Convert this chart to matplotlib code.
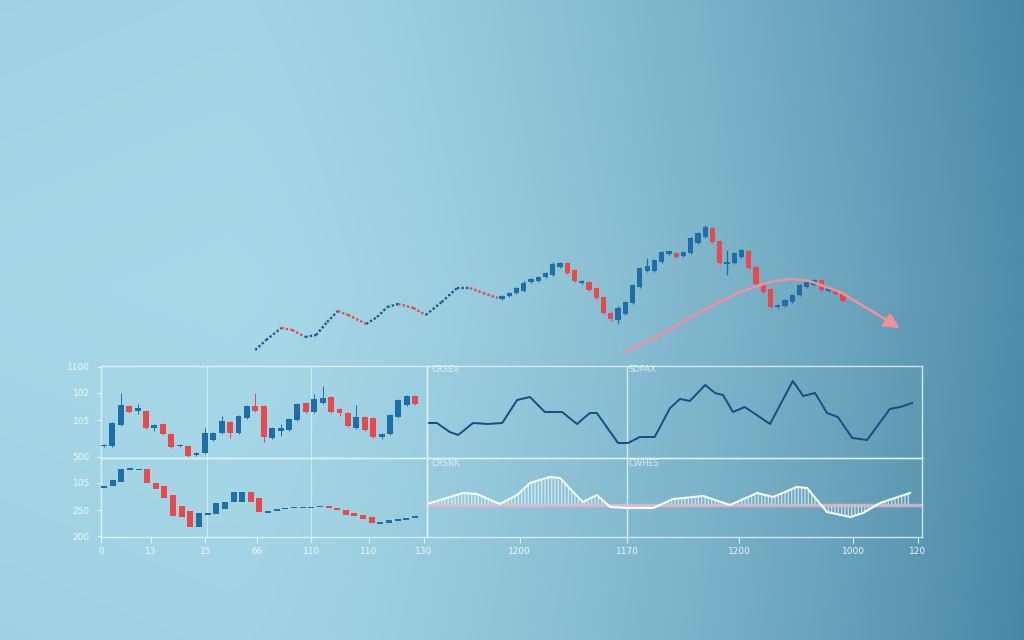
import numpy as np
import matplotlib
matplotlib.use("Agg")
import matplotlib.pyplot as plt

# ---- data ----
# top "hero" chart: dotted wave, then candles, then forecast arrow
wave_x = [-34.0, -32.5, -30.4, -28.9, -27.1, -25.6, -24.1, -22.6, -21.2, -18.7, -17.2,
          -15.8, -14.3, -12.2, -10.5, -8.3, -6.2, -4.4, -2.6, -0.6]
wave_y = [10, 20, 32, 30, 23, 25, 38, 49, 45, 36, 43, 53, 56, 52, 45, 58, 72, 72, 67, 62]

hero_open = [61, 64, 67, 69, 78, 79, 83, 85, 93, 97, 90, 77, 78, 72, 63, 47, 40, 46, 57, 73,
             89, 89, 98, 106, 107, 104, 107, 117, 123, 132, 119, 96, 97, 103, 109, 93, 76, 71,
             53, 54, 58, 65, 73, 75, 80, 69, 70, 66]
hero_close = [64, 67, 72, 77, 81, 83, 87, 96, 97, 87, 79, 79, 70, 62, 47, 41, 52, 58, 75, 92,
              94, 100, 108, 109, 103, 108, 122, 127, 133, 118, 97, 98, 107, 110, 92, 76, 68, 53,
              55, 60, 65, 75, 78, 80, 70, 72, 66, 59]
hero_high = [65, 68, 73, 79, 82, 84, 88, 98, 98, 98, 91, 80, 79, 73, 64, 48, 54, 59, 76, 93,
             102, 101, 109, 110, 108, 109, 123, 128, 135, 133, 120, 110, 108, 111, 110, 94, 77, 72,
             56, 61, 66, 76, 79, 81, 81, 73, 71, 67]
hero_low = [60, 63, 66, 68, 77, 78, 82, 84, 92, 86, 78, 76, 69, 61, 46, 39, 37, 45, 56, 72,
            88, 88, 97, 105, 102, 103, 106, 116, 122, 117, 96, 85, 96, 102, 91, 75, 67, 52,
            52, 53, 57, 64, 72, 74, 69, 68, 65, 58]

arrow_x = [16.9, 21.8, 27.3, 32.8, 36.9, 39.7, 42.4, 46.6, 50.7, 54.8]
arrow_y = [8, 25, 48, 68, 78, 81, 79, 68, 50, 32]

# bottom-left upper candles
tl_open = [12, 12, 33, 52, 47, 47, 30, 34, 24, 12, 12, 3, 5, 18, 25, 36, 25, 40, 52, 52,
           20, 27, 28, 38, 55, 46, 55, 61, 49, 45, 30, 41, 40, 21, 24, 41, 53, 62]
tl_close = [13, 35, 53, 46, 50, 30, 33, 24, 11, 13, 2, 5, 25, 25, 37, 25, 42, 52, 47, 21,
            30, 30, 39, 54, 46, 59, 60, 46, 45, 32, 41, 28, 21, 24, 43, 58, 62, 54]
tl_high = [14, 36, 65, 53, 54, 48, 34, 35, 25, 14, 13, 6, 30, 26, 42, 37, 43, 53, 65, 53,
           31, 34, 40, 55, 56, 64, 72, 62, 50, 46, 53, 42, 41, 25, 44, 59, 63, 63]
tl_low = [11, 11, 32, 45, 44, 29, 27, 23, 10, 11, 1, 2, 4, 17, 24, 20, 24, 39, 46, 16,
          19, 22, 27, 37, 45, 45, 54, 45, 42, 31, 29, 27, 20, 19, 23, 40, 52, 53]

# bottom-left lower candles
bl_open = [49, 51, 55, 67, 67, 68, 54, 51, 42, 31, 26, 10, 22, 23, 28, 35, 35, 45, 39,
           24, 26, 28, 29, 29, 29, 30, 31, 29, 27, 24, 22, 20, 13, 14, 16, 17, 19]
bl_close = [51, 57, 68, 69, 68, 54, 48, 39, 21, 20, 10, 24, 24, 34, 35, 45, 45, 35, 25,
            26, 28, 29, 30, 30, 30, 31, 29, 27, 22, 21, 18, 14, 15, 17, 18, 19, 21]

# bottom-right upper line
line_x = [0, 2, 4.6, 6.3, 9.3, 12.3, 15.2, 18.2, 20.8, 23.8, 27.3, 30.3, 32.9, 34.3, 38.6,
          40.6, 43, 46, 49.1, 51.1, 53.1, 56.2, 58.2, 59.8, 61.8, 64.2, 69.3, 73.9, 76,
          78.4, 80.8, 83, 85.9, 88.9, 93.5, 95.6, 98]
line_y = [35, 35, 26, 23, 35, 34, 35, 58, 61, 46, 46, 34, 45, 45, 15, 15, 21, 21, 50, 59,
          57, 73, 65, 63, 46, 51, 34, 77, 62, 65, 45, 41, 20, 18, 49, 51, 55]

# bottom-right lower oscillator
osc_x = [0, 2.6, 7.3, 10.1, 14.7, 18.2, 20.8, 24.8, 26.9, 29.5, 31.5, 34.3, 37.0, 40.4,
         45.7, 49.7, 55.8, 61.2, 66.7, 69.9, 74.7, 76.8, 80.8, 85.5, 88.1, 91.5, 97.6]
osc_y = [33, 37, 44, 43, 33, 42, 54, 60, 59, 45, 35, 42, 30, 29, 29, 38, 41, 32, 44, 40,
         50, 49, 25, 20, 24, 34, 44]
osc_base = 32

panel_names = ["CRSEX", "SDPAX", "CRSNK", "CWHES"]
ytick_pos = [170, 144, 117, 80, 54, 27, 1]
ytick_labels = ["1100", "102", "105", "500", "105", "250", "200"]
xtick_pos = [0, 6.1, 12.7, 19.0, 25.6, 32.6, 39.3, 51.0, 64.1, 77.7, 91.6, 99.5]
xtick_labels = ["0", "13", "15", "66", "110", "110", "130", "1200", "1170", "1200", "1000", "120"]

BLUE = "#1f6ea6"
WAVE_BLUE = "#1d5690"
RED = "#e8494c"
NAVY = "#1b4b86"
PINK = "#f0909e"
FRAME = "#e2f3f8"
TXT = "#eaf6fa"

fig = plt.figure(figsize=(10.24, 6.4), dpi=100)

# background gradient
bg = fig.add_axes([0, 0, 1, 1])
gx, gy = np.meshgrid(np.linspace(0, 1, 400), np.linspace(0, 1, 250))
f = 0.9 * np.clip((gx - 0.22) / 0.78, 0, 1) ** 1.5 + 0.12 * np.abs(gy - 0.45) + 0.08 * np.clip(0.25 - gx, 0, 1)
f = np.clip(f, 0, 1)
light = np.array([168, 217, 233]) / 255
dark = np.array([70, 133, 163]) / 255
img = light[None, None, :] * (1 - f[..., None]) + dark[None, None, :] * f[..., None]
bg.imshow(img, aspect="auto", extent=[0, 1, 1, 0])
bg.axis("off")


def candles(ax, o, c, h=None, l=None, width=0.7, lw=0.8):
    for i in range(len(o)):
        col = BLUE if c[i] >= o[i] else RED
        lo, hi = min(o[i], c[i]), max(o[i], c[i])
        if h is not None:
            ax.vlines(i, l[i], h[i], color=col, lw=lw, zorder=2)
        ax.bar(i, max(hi - lo, 0.8), bottom=lo, width=width, color=col, zorder=3, linewidth=0)


# ---- hero chart ----
hero = fig.add_axes([240 / 1024, 1 - 360 / 640, 680 / 1024, 140 / 640])
hero.axis("off")
hero.set_xlim(-36.1, 57.6)
hero.set_ylim(0, 140)
for i in range(len(wave_x) - 1):
    col = WAVE_BLUE if wave_y[i + 1] >= wave_y[i] else RED
    hero.plot(wave_x[i:i + 2], wave_y[i:i + 2], color=col, lw=1.7, ls=(0, (1.0, 0.9)),
              solid_capstyle="butt")
candles(hero, hero_open, hero_close, hero_high, hero_low, width=0.72, lw=0.9)
hero.plot(arrow_x[:-1], arrow_y[:-1], color=PINK, lw=1.8, zorder=4)
hero.annotate("", xy=(arrow_x[-1], arrow_y[-1]), xytext=(arrow_x[-2], arrow_y[-2]),
              arrowprops=dict(arrowstyle="-|>,head_length=0.9,head_width=0.45", color=PINK,
                              lw=1.8, shrinkA=0, shrinkB=0), zorder=4)

# ---- bottom panels ----
L, M, R = 101 / 1024, 427 / 1024, 922 / 1024
T, MID, B = 1 - 366 / 640, 1 - 458 / 640, 1 - 537 / 640
ax_tl = fig.add_axes([L, MID, M - L, T - MID])
ax_bl = fig.add_axes([L, B, M - L, MID - B])
ax_tr = fig.add_axes([M, MID, R - M, T - MID])
ax_br = fig.add_axes([M, B, R - M, MID - B])

for ax in (ax_tl, ax_bl, ax_tr, ax_br):
    ax.patch.set_alpha(0)
    ax.set_xticks([])
    ax.set_yticks([])
    for s in ax.spines.values():
        s.set_color(FRAME)
        s.set_linewidth(1.0)
        s.set_alpha(0.85)

for ax in (ax_tl, ax_bl):
    for fx in (0.325, 0.644):
        ax.plot([fx, fx], [0, 1], transform=ax.transAxes, color=FRAME, lw=0.8, alpha=0.7)
for ax in (ax_tr, ax_br):
    ax.plot([0.404, 0.404], [0, 1], transform=ax.transAxes, color=FRAME, lw=1.0, alpha=0.85)

candles(ax_tl, tl_open, tl_close, tl_high, tl_low, width=0.7, lw=0.7)
ax_tl.set_xlim(-0.35, len(tl_open) + 0.4)
ax_tl.set_ylim(0, 92)

candles(ax_bl, bl_open, bl_close, width=0.7)
ax_bl.set_xlim(-0.35, len(bl_open) + 0.4)
ax_bl.set_ylim(0, 79)

ax_tr.plot(line_x, line_y, color=NAVY, lw=1.4)
ax_tr.set_xlim(0, 100)
ax_tr.set_ylim(0, 92)

ax_br.axhline(osc_base, color="#e7b9c8", lw=2.5, alpha=0.8)
ax_br.fill_between(osc_x, osc_y, osc_base, facecolor="none", edgecolor="#f4fbfd",
                   hatch="|||||", linewidth=0, alpha=0.65)
ax_br.plot(osc_x, osc_y, color="#f6fcfe", lw=1.5)
ax_br.set_xlim(0, 100)
ax_br.set_ylim(0, 79)

ax_tr.text(0.01, 0.93, panel_names[0], transform=ax_tr.transAxes, color=TXT, fontsize=6, alpha=0.85)
ax_tr.text(0.408, 0.93, panel_names[1], transform=ax_tr.transAxes, color=TXT, fontsize=6, alpha=0.85)
ax_br.text(0.01, 0.9, panel_names[2], transform=ax_br.transAxes, color=TXT, fontsize=6, alpha=0.85)
ax_br.text(0.408, 0.9, panel_names[3], transform=ax_br.transAxes, color=TXT, fontsize=6, alpha=0.85)

# axis labels on an overlay spanning the whole panel block
lab = fig.add_axes([L, B, R - L, T - B])
lab.patch.set_alpha(0)
lab.set_xlim(0, 100)
lab.set_ylim(0, 171)
for s in lab.spines.values():
    s.set_visible(False)
lab.set_xticks(xtick_pos)
lab.set_xticklabels(xtick_labels)
lab.set_yticks(ytick_pos)
lab.set_yticklabels(ytick_labels)
lab.tick_params(axis="x", colors=FRAME, labelcolor=TXT, labelsize=6.5, length=4, width=0.8, pad=3)
lab.tick_params(axis="y", colors=FRAME, labelcolor=TXT, labelsize=6.5, length=3, width=0.8, pad=5)

fig.savefig("out.png", dpi=100)
